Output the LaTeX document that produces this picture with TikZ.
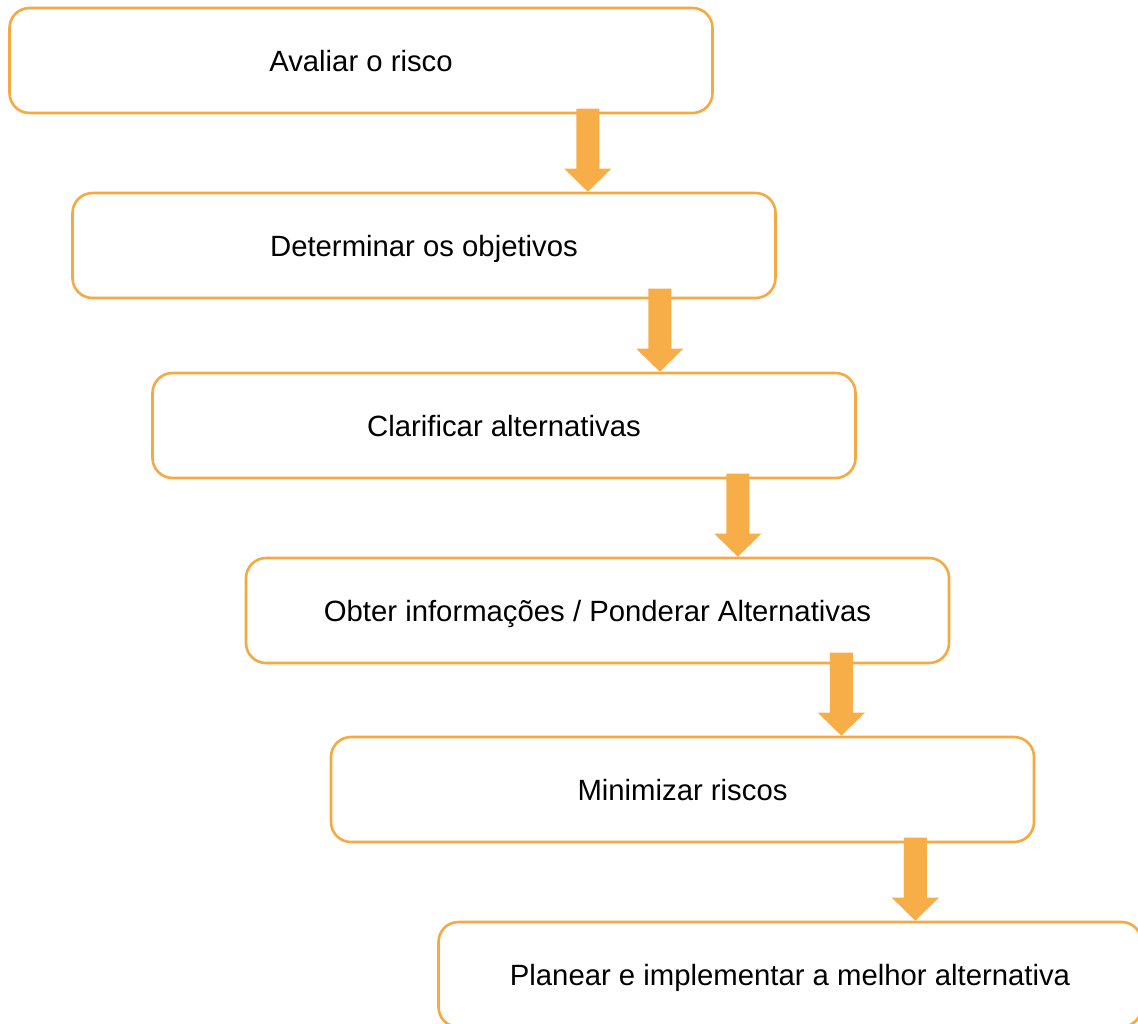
\documentclass[tikz,border=0pt]{standalone}
\usepackage{fontspec}
\setmainfont{Liberation Sans}
\usetikzlibrary{calc}
\definecolor{orangeline}{HTML}{F6A943}
\definecolor{orangefill}{HTML}{F7AD48}
\tikzset{
  stepbox/.style={draw=orangeline, line width=2.6pt, rounded corners=20pt,
    minimum width=703pt, minimum height=105pt, inner sep=0pt,
    text height=22pt, text depth=0pt,
    font=\fontsize{29.3}{35}\selectfont, text=black, fill=white},
  blockarrow/.style={fill=orangefill, draw=none}
}
% block arrow whose tip sits at the given coordinate
\newcommand{\downarrowshape}[1]{%
  \fill[blockarrow] ($(#1)+(-11.5,-83)$) -- ($(#1)+(11.5,-83)$)
    -- ($(#1)+(11.5,-23)$) -- ($(#1)+(23.5,-23)$) -- (#1)
    -- ($(#1)+(-23.5,-23)$) -- ($(#1)+(-11.5,-23)$) -- cycle;}
\begin{document}
\begin{tikzpicture}[x=1pt, y=-1pt]
  \useasboundingbox (0,0) rectangle (1138,1023);
  \node[stepbox] (b1) at (361,60.5) {Avaliar o risco};
  \node[stepbox] (b2) at (424,245.5) {Determinar os objetivos};
  \node[stepbox] (b3) at (504,425.5) {Clarificar alternativas};
  \node[stepbox] (b4) at (597.5,610.5) {Obter informações / Ponderar Alternativas};
  \node[stepbox] (b5) at (682.5,789.5) {Minimizar riscos};
  \node[stepbox] (b6) at (790,974.5) {Planear e implementar a melhor alternativa};
  % arrow tips on the top edge of the following step
  \coordinate (t1) at ($(b1.south east)+(-126,0)$);
  \coordinate (t2) at ($(b2.south east)+(-117,0)$);
  \coordinate (t3) at ($(b3.south east)+(-119,0)$);
  \coordinate (t4) at ($(b4.south east)+(-109,0)$);
  \coordinate (t5) at ($(b5.south east)+(-120,0)$);
  \coordinate (a1) at (t1 |- b2.north);
  \coordinate (a2) at (t2 |- b3.north);
  \coordinate (a3) at (t3 |- b4.north);
  \coordinate (a4) at (t4 |- b5.north);
  \coordinate (a5) at (t5 |- b6.north);
  \downarrowshape{a1}
  \downarrowshape{a2}
  \downarrowshape{a3}
  \downarrowshape{a4}
  \downarrowshape{a5}
\end{tikzpicture}
\end{document}
